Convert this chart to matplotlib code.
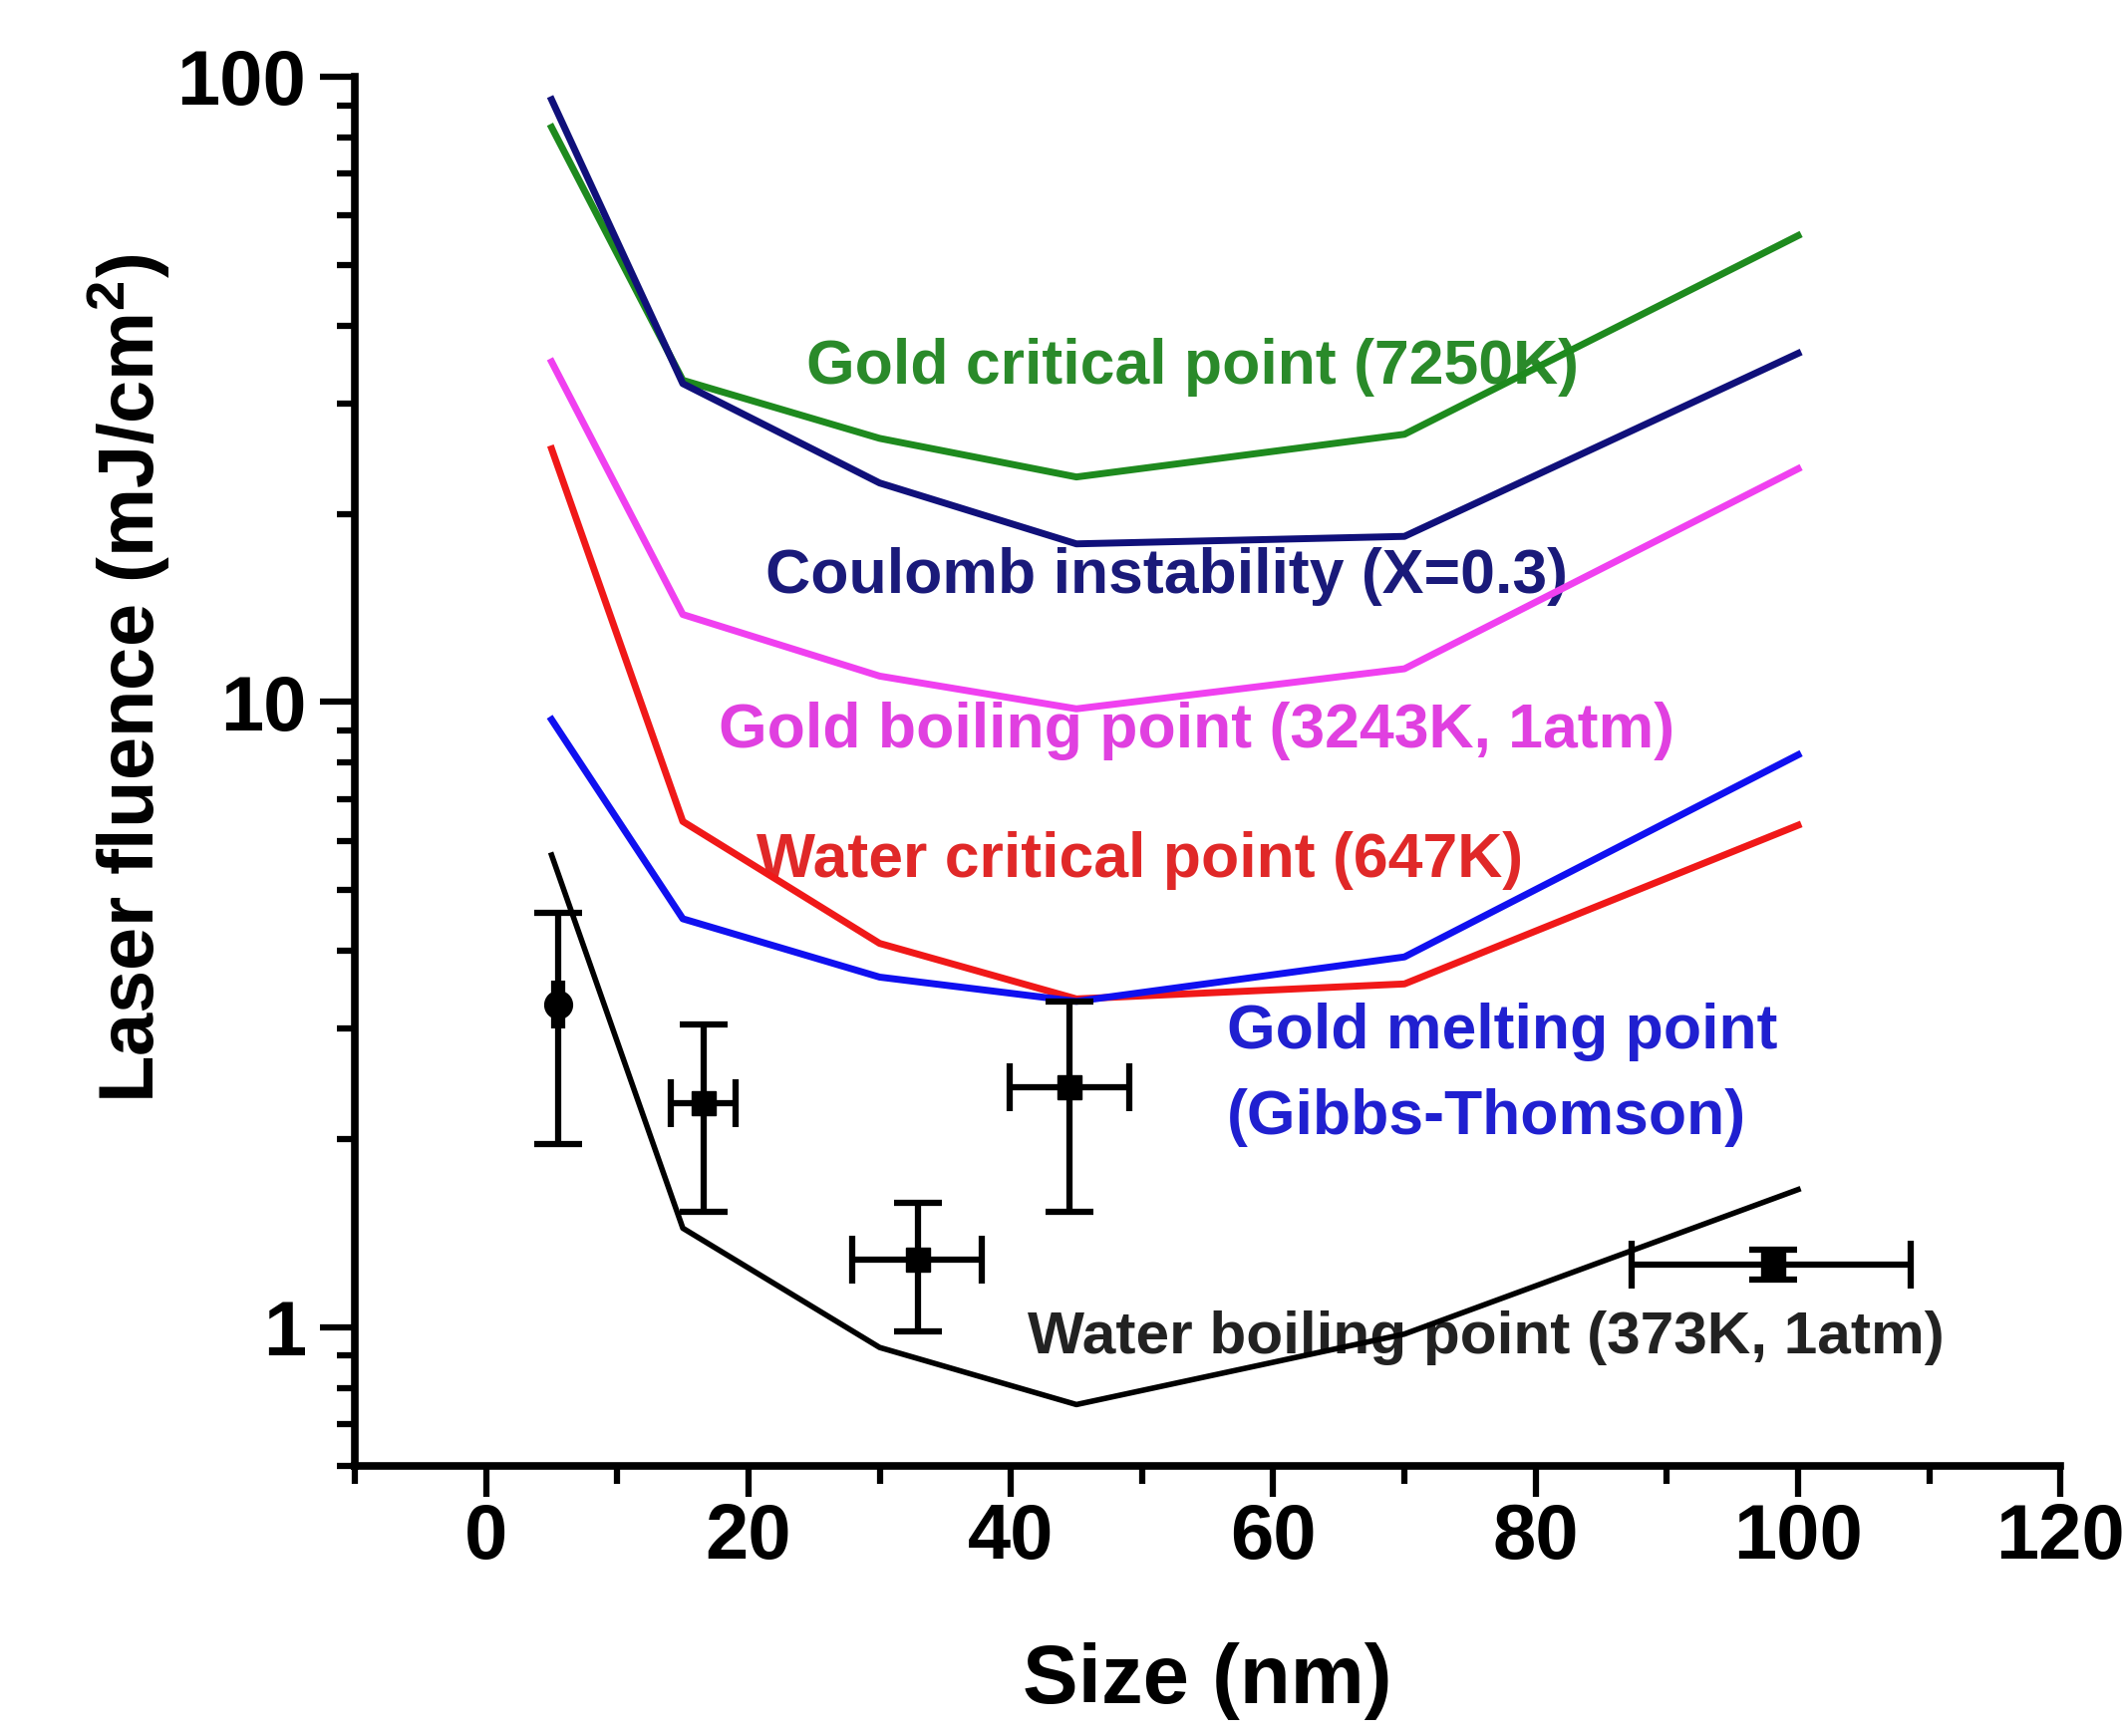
import matplotlib
matplotlib.use("Agg")
import matplotlib.pyplot as plt
from matplotlib.ticker import LogLocator, NullFormatter, FixedLocator, MultipleLocator

plt.rcParams['font.family'] = ['Liberation Sans', 'DejaVu Sans']
plt.rcParams['font.weight'] = 'bold'
plt.rcParams['mathtext.fontset'] = 'custom'
plt.rcParams['mathtext.bf'] = 'Liberation Sans:bold'
plt.rcParams['mathtext.rm'] = 'Liberation Sans:bold'
plt.rcParams['mathtext.default'] = 'bf'

# Model curves (size in nm vs threshold laser fluence in mJ/cm^2)
size_nm = [5, 15, 30, 45, 70, 100]
gold_critical = [83, 32.7, 26.4, 22.9, 26.8, 55.7]
coulomb = [91.9, 32.3, 22.4, 17.9, 18.4, 36.1]
gold_boiling = [35.0, 13.8, 11.0, 9.75, 11.3, 23.6]
water_critical = [25.4, 6.44, 4.11, 3.35, 3.54, 6.35]
gold_melting = [9.37, 4.50, 3.63, 3.32, 3.91, 8.23]
water_boiling = [5.69, 1.44, 0.928, 0.752, 0.975, 1.66]

# Experimental data points with error bars
exp_size = [5.5, 16.6, 32.9, 44.5, 98.1]
exp_fluence = [3.28, 2.28, 1.28, 2.42, 1.26]
exp_size_lo = [0.3, 2.5, 5.0, 4.6, 10.8]
exp_size_hi = [0.3, 2.4, 4.9, 4.5, 10.5]
exp_flu_lo = [1.32, 0.75, 0.295, 0.89, 0.07]
exp_flu_hi = [1.32, 0.77, 0.30, 0.90, 0.07]

labels = ["Gold critical point (7250K)", "Coulomb instability (X=0.3)",
          "Gold boiling point (3243K, 1atm)", "Water critical point (647K)",
          "Gold melting point", "(Gibbs-Thomson)",
          "Water boiling point (373K, 1atm)"]

fig = plt.figure(figsize=(21.29, 17.42), dpi=100)
ax = fig.add_axes([0.1672, 0.1556, 0.9710 - 0.1672, 0.9558 - 0.1556])

c_green = '#1e8a1e'
c_navy = '#10107a'
c_mag = '#f040f0'
c_red = '#f01818'
c_blue = '#1010f0'

lw = 5
ax.plot(size_nm, gold_critical, color=c_green, lw=lw, zorder=3)
ax.plot(size_nm, coulomb, color=c_navy, lw=lw, zorder=3)
ax.plot(size_nm, gold_boiling, color=c_mag, lw=lw, zorder=3)
ax.plot(size_nm, water_critical, color=c_red, lw=lw, zorder=3)
ax.plot(size_nm, gold_melting, color=c_blue, lw=lw, zorder=3)
ax.plot(size_nm, water_boiling, color='black', lw=4, zorder=3)

ax.errorbar(exp_size[:1], exp_fluence[:1],
            xerr=[exp_size_lo[:1], exp_size_hi[:1]],
            yerr=[exp_flu_lo[:1], exp_flu_hi[:1]],
            fmt='o', color='black', ms=20, elinewidth=4.5, capsize=17,
            capthick=4.5, zorder=4)
ax.errorbar(exp_size[1:], exp_fluence[1:],
            xerr=[exp_size_lo[1:], exp_size_hi[1:]],
            yerr=[exp_flu_lo[1:], exp_flu_hi[1:]],
            fmt='s', color='black', ms=17, elinewidth=4.5, capsize=17,
            capthick=4.5, zorder=4)

fs_txt = 45
ax.text(24.4, 34.3, labels[0], color='#2a8a2a', fontsize=fs_txt, fontweight='bold', va='center', ha='left', zorder=2)
ax.text(21.3, 15.9, labels[1], color='#1a1a7a', fontsize=fs_txt, fontweight='bold', va='center', ha='left', zorder=2)
ax.text(17.7, 9.0, labels[2], color='#e040e0', fontsize=fs_txt, fontweight='bold', va='center', ha='left', zorder=2)
ax.text(20.6, 5.57, labels[3], color='#e02828', fontsize=fs_txt, fontweight='bold', va='center', ha='left', zorder=2)
ax.text(56.5, 2.97, labels[4], color='#2020d0', fontsize=fs_txt, fontweight='bold', va='center', ha='left', zorder=2)
ax.text(56.5, 2.16, labels[5], color='#2020d0', fontsize=fs_txt, fontweight='bold', va='center', ha='left', zorder=2)
ax.text(41.3, 0.96, labels[6], color='#222222', fontsize=43.5, fontweight='bold', va='center', ha='left', zorder=2)

ax.set_yscale('log')
ax.set_xlim(-10, 120)
ax.set_ylim(0.6, 100)

ax.xaxis.set_major_locator(FixedLocator([0, 20, 40, 60, 80, 100, 120]))
ax.xaxis.set_minor_locator(MultipleLocator(10))
ax.yaxis.set_major_locator(FixedLocator([1, 10, 100]))
ax.yaxis.set_minor_locator(LogLocator(base=10, subs=range(2, 10)))
ax.yaxis.set_minor_formatter(NullFormatter())
ax.set_yticklabels(['1', '10', '100'])

for s in ['top', 'right']:
    ax.spines[s].set_visible(False)
for s in ['left', 'bottom']:
    ax.spines[s].set_linewidth(5.5)

ax.tick_params(axis='both', which='major', direction='out', width=4.5,
               labelsize=56)
ax.tick_params(axis='x', which='major', length=22, pad=4)
ax.tick_params(axis='y', which='major', length=25, pad=10)
ax.tick_params(axis='both', which='minor', direction='out', length=13, width=4.5)
for lab in ax.get_xticklabels() + ax.get_yticklabels():
    lab.set_fontweight('bold')

ax.set_xlabel('Size (nm)', fontsize=60, fontweight='bold')
ax.xaxis.set_label_coords(0.5, -0.155)
ax.xaxis.label.set_va('center')
ax.set_ylabel(r'Laser fluence (mJ/cm$^{2}$)', fontsize=56, fontweight='bold')
ax.yaxis.set_label_coords(-0.1325, 0.567)
ax.yaxis.label.set_va('center')

fig.savefig('out.png', dpi=100)
